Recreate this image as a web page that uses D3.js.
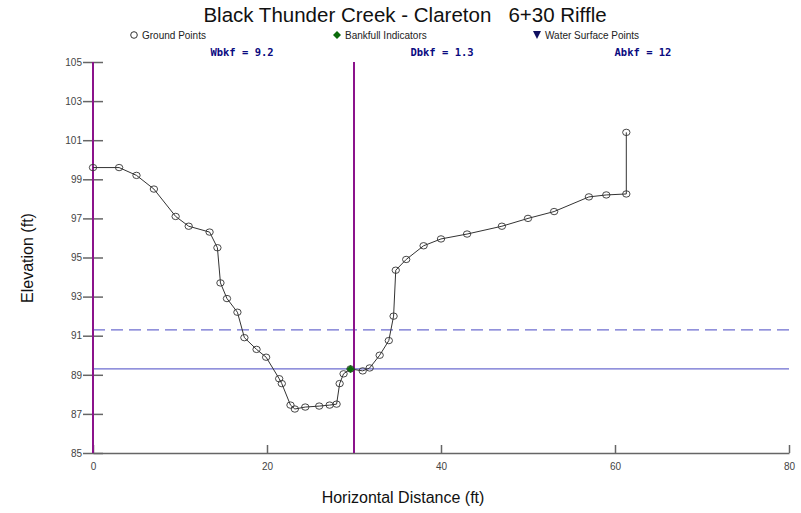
<!DOCTYPE html>
<html>
<head>
<meta charset="utf-8">
<script src="https://cdn.jsdelivr.net/npm/d3@7"></script>
<style>
  body { margin: 0; background: #fff; }
  svg { display: block; }
</style>
</head>
<body>
<div id="chart"></div>
<script>
const titleText = 'Black Thunder Creek - Clareton   6+30 Riffle';

// ground survey points (station ft, elevation ft)
const groundX = [0, 3, 5, 7, 9.5, 11, 13.4, 14.3, 14.65, 15.4, 16.6, 17.4, 18.8, 19.9, 21.4, 21.7,
    22.7, 23.2, 24.4, 26.0, 27.2, 28.0, 28.35, 28.8, 29.6, 31.0, 31.8, 32.95, 34.0, 34.55, 34.8,
    36.0, 38.0, 40.0, 43.0, 47.0, 50.0, 53.0, 57.0, 59.0, 61.3, 61.3];
const groundY = [99.6, 99.6, 99.2, 98.5, 97.1, 96.6, 96.3, 95.5, 93.7, 92.9, 92.2, 90.9, 90.3, 89.9, 88.8, 88.55,
    87.45, 87.25, 87.35, 87.4, 87.45, 87.5, 88.55, 89.05, 89.3, 89.2, 89.35, 90.0, 90.75, 92.0, 94.35,
    94.9, 95.6, 95.95, 96.2, 96.6, 97.0, 97.35, 98.1, 98.2, 98.25, 101.4];

const bankfullX = [29.6];
const bankfullY = [89.3];

const bankfullElev = 89.3;
const floodproneElev = 91.3;
const stationLines = [0, 30];

const xTicks = [0, 20, 40, 60, 80];
const yTicks = [85, 87, 89, 91, 93, 95, 97, 99, 101, 103, 105];

const legendItems = ['Ground Points', 'Bankfull Indicators', 'Water Surface Points'];
const statLabels = ['Wbkf = 9.2', 'Dbkf = 1.3', 'Abkf = 12'];

const w = 801, h = 513;
const padding = { top: 62, bottom: 60, left: 93, right: 12 };
const sans = '"Liberation Sans", Arial, sans-serif';

const svg = d3.select('#chart').append('svg')
    .attr('width', w)
    .attr('height', h)
    .style('font-family', sans);

const xScale = d3.scaleLinear().domain([0, 80]).range([padding.left, w - padding.right]);
const yScale = d3.scaleLinear().domain([85, 105]).range([h - padding.bottom, padding.top]);

const purple = '#8b138b', blueLine = '#6d6dd0', grey = '#666';
const diamond = 'M0,-4 L4,0 L0,4 L-4,0 Z';

// title
svg.append('text')
    .attr('x', 405)
    .attr('y', 22)
    .attr('text-anchor', 'middle')
    .attr('font-size', 20.5)
    .attr('fill', '#111')
    .style('white-space', 'pre')
    .text(titleText);

// legend
const legX = [134, 337, 537];
const legend = svg.append('g').attr('font-size', 10).attr('fill', '#222');
legend.append('circle').attr('cx', legX[0]).attr('cy', 35).attr('r', 3.3)
    .attr('fill', 'none').attr('stroke', '#333');
legend.append('path').attr('d', diamond)
    .attr('transform', 'translate(' + legX[1] + ',35)').attr('fill', '#0b6b0b');
legend.append('path').attr('d', 'M-4,-4 L4,-4 L0,4 Z')
    .attr('transform', 'translate(' + legX[2] + ',35)').attr('fill', '#101060');
legend.selectAll('text.leg')
    .data(legendItems)
    .enter()
    .append('text')
    .attr('class', 'leg')
    .attr('x', (d, i) => legX[i] + 8)
    .attr('y', 39)
    .text(d => d);

// stats
svg.selectAll('text.stat')
    .data(statLabels)
    .enter()
    .append('text')
    .attr('class', 'stat')
    .attr('x', (d, i) => [242, 442, 643][i])
    .attr('y', 56)
    .attr('text-anchor', 'middle')
    .style('font-family', '"DejaVu Sans Mono", monospace')
    .attr('font-weight', 'bold')
    .attr('font-size', 10.5)
    .attr('fill', '#0a0a80')
    .style('white-space', 'pre')
    .text(d => d);

// y axis
const yAxis = d3.axisLeft(yScale).tickValues(yTicks).tickSize(10).tickPadding(1);
const gy = svg.append('g')
    .attr('transform', 'translate(' + padding.left + ',0)')
    .call(yAxis);
gy.select('.domain').remove();
gy.selectAll('.tick line').attr('x2', 10).attr('x1', -10).attr('stroke', grey).attr('stroke-width', 1.5);
gy.selectAll('.tick text').attr('font-size', 10).attr('fill', '#444').attr('font-family', sans);

// x axis
const xAxis = d3.axisBottom(xScale).tickValues(xTicks).tickSize(0).tickPadding(10);
const gx = svg.append('g')
    .attr('transform', 'translate(0,' + (h - padding.bottom) + ')')
    .call(xAxis);
gx.select('.domain').attr('stroke', grey).attr('stroke-width', 1.5);
gx.selectAll('.tick line').attr('y2', -8).attr('stroke', grey).attr('stroke-width', 1.5);
gx.selectAll('.tick text').attr('font-size', 10).attr('fill', '#444').attr('font-family', sans);

// axis names
svg.append('text')
    .attr('x', 403)
    .attr('y', 503)
    .attr('text-anchor', 'middle')
    .attr('font-size', 16)
    .attr('fill', '#111')
    .text('Horizontal Distance (ft)');

svg.append('text')
    .attr('transform', 'translate(33,258) rotate(-90)')
    .attr('text-anchor', 'middle')
    .attr('font-size', 16)
    .attr('fill', '#111')
    .text('Elevation (ft)');

// horizontal reference lines
svg.append('line')
    .attr('x1', xScale(0)).attr('x2', xScale(80))
    .attr('y1', yScale(floodproneElev)).attr('y2', yScale(floodproneElev))
    .attr('stroke', blueLine).attr('stroke-width', 1.3)
    .attr('stroke-dasharray', '12,6');
svg.append('line')
    .attr('x1', xScale(0)).attr('x2', xScale(80))
    .attr('y1', yScale(bankfullElev)).attr('y2', yScale(bankfullElev))
    .attr('stroke', blueLine).attr('stroke-width', 1.3);

// vertical station lines
svg.selectAll('line.sta')
    .data(stationLines)
    .enter()
    .append('line')
    .attr('class', 'sta')
    .attr('x1', d => xScale(d)).attr('x2', d => xScale(d))
    .attr('y1', yScale(105)).attr('y2', yScale(85))
    .attr('stroke', purple).attr('stroke-width', 2);

// ground line + points
const ground = groundX.map((x, i) => ({ x: x, y: groundY[i] }));
const line = d3.line().x(d => xScale(d.x)).y(d => yScale(d.y));
svg.append('path')
    .datum(ground)
    .attr('d', line)
    .attr('fill', 'none')
    .attr('stroke', '#333')
    .attr('stroke-width', 1);

svg.selectAll('ellipse.gp')
    .data(ground)
    .enter()
    .append('ellipse')
    .attr('class', 'gp')
    .attr('cx', d => xScale(d.x))
    .attr('cy', d => yScale(d.y))
    .attr('rx', 3.7)
    .attr('ry', 3.2)
    .attr('fill', 'none')
    .attr('stroke', '#333')
    .attr('stroke-width', 0.9);

svg.selectAll('path.bk')
    .data(bankfullX)
    .enter()
    .append('path')
    .attr('class', 'bk')
    .attr('d', diamond)
    .attr('transform', (d, i) => 'translate(' + xScale(d) + ',' + yScale(bankfullY[i]) + ')')
    .attr('fill', '#0b6b0b');
</script>
</body>
</html>
